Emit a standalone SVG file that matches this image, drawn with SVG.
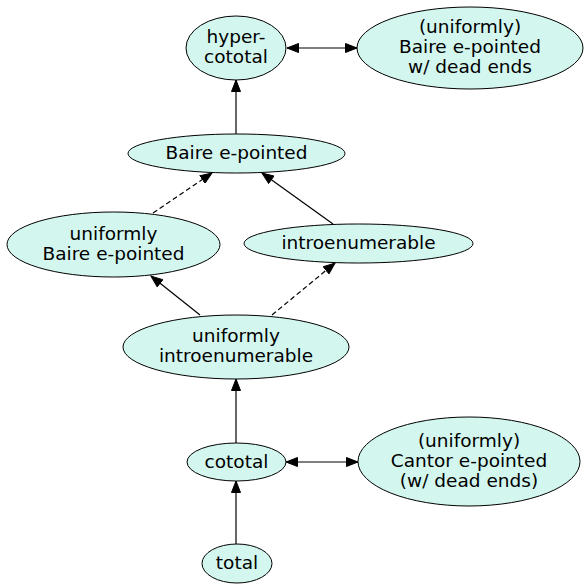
<svg xmlns="http://www.w3.org/2000/svg" width="585" height="584" viewBox="0 0 585 584">
<style>
.n ellipse{fill:#d3f7ef;stroke:#000;stroke-width:1}
.n text{font-family:"DejaVu Sans",Verdana,sans-serif;font-size:18.5px;text-anchor:middle;fill:#000}
.e line{stroke:#000;stroke-width:1.2;fill:none}
.e .d{stroke-dasharray:5,3}
</style>
<defs>
<marker id="ah" markerUnits="userSpaceOnUse" markerWidth="13" markerHeight="10" refX="12" refY="5" orient="auto-start-reverse" viewBox="0 0 13 10">
<path d="M0.5,0.5 L12,5 L0.5,9.5 z" fill="#000" stroke="#000" stroke-width="1"/>
</marker>
</defs>
<rect width="585" height="584" fill="#fff"/>
<g id="edges" class="e">
<line x1="236" y1="134" x2="236" y2="80" marker-end="url(#ah)"/>
<line x1="287" y1="48" x2="357" y2="48" marker-start="url(#ah)" marker-end="url(#ah)"/>
<line class="d" x1="153" y1="213" x2="212" y2="173" marker-end="url(#ah)"/>
<line x1="333" y1="224" x2="262" y2="173" marker-end="url(#ah)"/>
<line x1="200" y1="315" x2="151" y2="276" marker-end="url(#ah)"/>
<line class="d" x1="272" y1="315" x2="335" y2="263" marker-end="url(#ah)"/>
<line x1="236" y1="443" x2="236" y2="379" marker-end="url(#ah)"/>
<line x1="286" y1="462" x2="358" y2="462" marker-start="url(#ah)" marker-end="url(#ah)"/>
<line x1="236" y1="544" x2="236" y2="481" marker-end="url(#ah)"/>
</g>
<g id="hypercototal" class="n">
<ellipse cx="236" cy="48" rx="50" ry="32"/>
<text x="236" y="43">hyper-</text>
<text x="236" y="63">cototal</text>
</g>
<g id="baire_dead" class="n">
<ellipse cx="470" cy="48" rx="113" ry="41"/>
<text x="470" y="33">(uniformly)</text>
<text x="470" y="53">Baire e-pointed</text>
<text x="470" y="73">w/ dead ends</text>
</g>
<g id="baire" class="n">
<ellipse cx="236.5" cy="153.5" rx="108.5" ry="19.5"/>
<text x="236.5" y="159">Baire e-pointed</text>
</g>
<g id="ubaire" class="n">
<ellipse cx="113.5" cy="244.5" rx="106.5" ry="32.5"/>
<text x="113.5" y="239.5">uniformly</text>
<text x="113.5" y="259.5">Baire e-pointed</text>
</g>
<g id="intro" class="n">
<ellipse cx="358.5" cy="243.5" rx="114.5" ry="19.5"/>
<text x="358.5" y="249">introenumerable</text>
</g>
<g id="uintro" class="n">
<ellipse cx="236" cy="347" rx="113" ry="32"/>
<text x="236" y="342">uniformly</text>
<text x="236" y="362">introenumerable</text>
</g>
<g id="cototal" class="n">
<ellipse cx="236.5" cy="462" rx="49.5" ry="19"/>
<text x="236.5" y="467.5">cototal</text>
</g>
<g id="cantor" class="n">
<ellipse cx="469" cy="461.5" rx="111" ry="44.5"/>
<text x="469" y="446.5">(uniformly)</text>
<text x="469" y="466.5">Cantor e-pointed</text>
<text x="469" y="486.5">(w/ dead ends)</text>
</g>
<g id="total" class="n">
<ellipse cx="237" cy="563.5" rx="35" ry="19.5"/>
<text x="237" y="569">total</text>
</g>
</svg>
